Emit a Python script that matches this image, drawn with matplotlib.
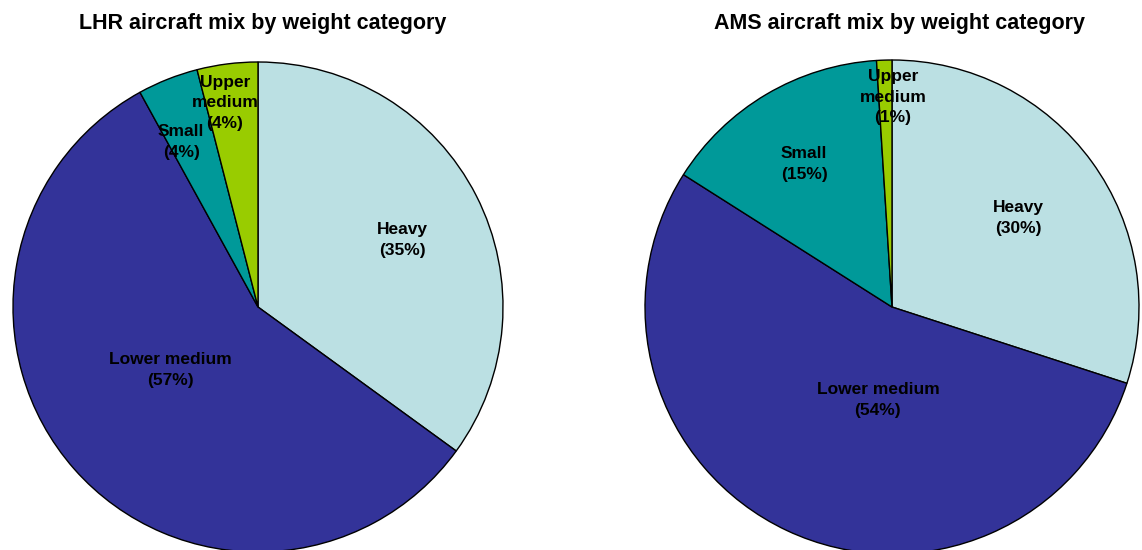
import matplotlib
matplotlib.use("Agg")
import matplotlib.pyplot as plt

plt.rcParams["font.family"] = ["Liberation Sans", "DejaVu Sans"]

categories = ["Heavy", "Lower medium", "Small", "Upper\nmedium"]
lhr_share = [35, 57, 4, 4]
ams_share = [30, 54, 15, 1]
colors = ["#BBE0E3", "#333399", "#009999", "#99CC00"]

# label positions in pie units (radius 1), placed like Excel's best fit
lhr_label_pos = [(0.588, 0.273), (-0.359, -0.257), (-0.314, 0.673), (-0.135, 0.833)]
ams_label_pos = [(0.510, 0.360), (-0.057, -0.377), (-0.356, 0.579), (0.004, 0.850)]

W, H = 1142, 550
fig = plt.figure(figsize=(W / 100, H / 100), dpi=100)


def draw_pie(cx, cy, r, values, label_pos, title, tx):
    ax = fig.add_axes([(cx - r) / W, (H - cy - r) / H, 2 * r / W, 2 * r / H])
    ax.pie(
        values,
        colors=colors,
        startangle=90,
        counterclock=False,
        radius=1,
        wedgeprops=dict(edgecolor="black", linewidth=1),
    )
    ax.set_xlim(-1, 1)
    ax.set_ylim(-1, 1)
    ax.set_aspect("equal")
    ax.axis("off")
    for name, v, (x, y) in zip(categories, values, label_pos):
        ax.text(x, y, f"{name}\n({v}%)", ha="center", va="center",
                fontsize=12.5, fontweight="bold", linespacing=1.45)
    fig.text(tx / W, 1 - 24 / H, title, ha="center", va="center",
             fontsize=15.5, fontweight="bold")


draw_pie(258, 307, 245, lhr_share, lhr_label_pos,
         "LHR aircraft mix by weight category", 263)
draw_pie(892, 307, 247, ams_share, ams_label_pos,
         "AMS aircraft mix by weight category", 899)

fig.savefig("out.png", dpi=100)
